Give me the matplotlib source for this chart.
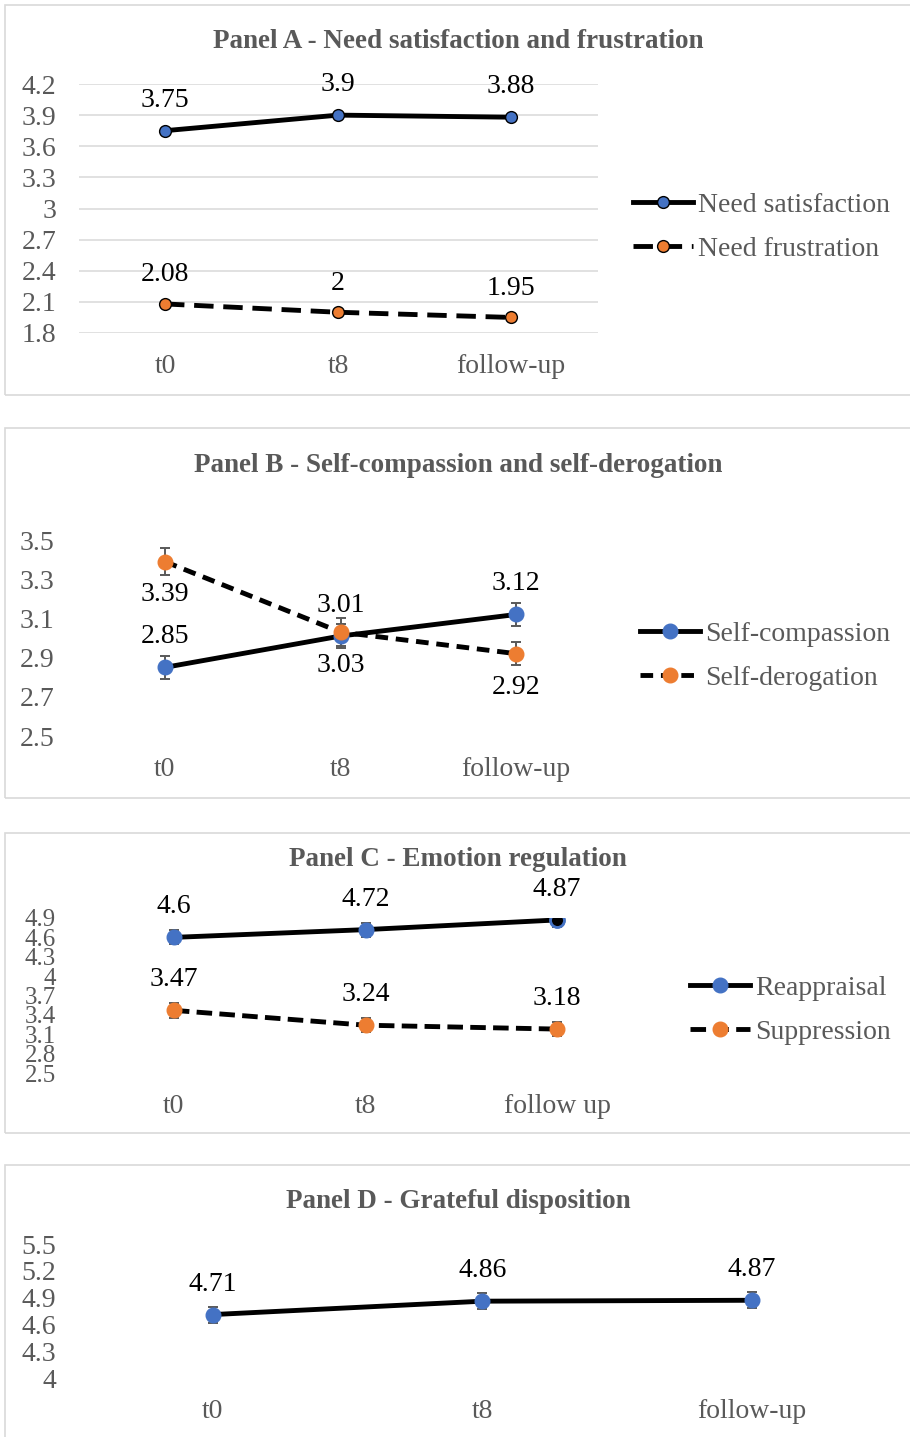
import matplotlib
matplotlib.use("Agg")
import matplotlib.pyplot as plt
from matplotlib.patches import Rectangle

plt.rcParams['font.family'] = ['Liberation Serif', 'DejaVu Serif']

W, H = 910, 1437
BLUE = '#4472C4'
ORANGE = '#ED7D31'
GRAY = '#595959'

times = ['t0', 't8', 'follow-up']
times_c = ['t0', 't8', 'follow up']

# Panel A
need_sat = [3.75, 3.9, 3.88]
need_fru = [2.08, 2.0, 1.95]
yticks_a = [1.8, 2.1, 2.4, 2.7, 3, 3.3, 3.6, 3.9, 4.2]

# Panel B
self_comp = [2.85, 3.01, 3.12]
self_comp_err = [0.06, 0.06, 0.06]
self_der = [3.39, 3.03, 2.92]
self_der_err = [0.07, 0.07, 0.06]
yticks_b = [2.5, 2.7, 2.9, 3.1, 3.3, 3.5]

# Panel C
reapp = [4.6, 4.72, 4.87]
reapp_err = [0.11, 0.11, 0.11]
suppr = [3.47, 3.24, 3.18]
suppr_err = [0.12, 0.11, 0.11]
yticks_c = [2.5, 2.8, 3.1, 3.4, 3.7, 4, 4.3, 4.6, 4.9]

# Panel D
grateful = [4.71, 4.86, 4.87]
grateful_err = [0.09, 0.09, 0.09]
yticks_d = [4, 4.3, 4.6, 4.9, 5.2, 5.5]

fig = plt.figure(figsize=(W / 100, H / 100), dpi=100)


def box(top, bottom):
    fig.patches.append(Rectangle((5 / W, 1 - bottom / H), 1.0, (bottom - top) / H,
                                 transform=fig.transFigure, fill=False,
                                 edgecolor='#d9d9d9', lw=1.2))


def make_axes(left, right, top, bottom, yticks, labels, grid=False, ysize=20):
    ax = fig.add_axes([left / W, 1 - bottom / H, (right - left) / W, (bottom - top) / H])
    ax.set_xlim(-0.5, 2.5)
    ax.set_ylim(yticks[0], yticks[-1])
    ax.set_yticks(yticks)
    ax.set_yticklabels([f'{t:g}' for t in yticks])
    ax.set_xticks(range(3))
    ax.set_xticklabels(labels)
    ax.tick_params(axis='both', length=0, labelsize=20, colors=GRAY)
    ax.tick_params(axis='y', pad=16, labelsize=ysize)
    ax.tick_params(axis='x', pad=15)
    for s in ax.spines.values():
        s.set_visible(False)
    if grid:
        ax.grid(axis='y', color='#d9d9d9', lw=1.1)
        ax.set_axisbelow(True)
    ax.patch.set_alpha(0)
    return ax


def labels_on(ax, vals, dy):
    for i, v in enumerate(vals):
        ax.annotate(f'{v:g}', xy=(i, v), xytext=(0, dy), textcoords='offset points',
                    ha='center', va='center', fontsize=20, color='black')


def title(y, text):
    fig.text(458 / W, 1 - y / H, text, ha='center', va='center', fontsize=19.5,
             fontweight='bold', color=GRAY)


def legend(ax, handles, names, x, y):
    ax.legend(handles, names, loc='center left', bbox_to_anchor=(x / W, 1 - y / H),
              bbox_transform=fig.transFigure, frameon=False, fontsize=20,
              handlelength=2.15, handletextpad=0.2, labelspacing=0.68,
              borderpad=0, borderaxespad=0, labelcolor=GRAY)


x = range(3)
eb = dict(ecolor=GRAY, elinewidth=1.4, capsize=3.5, capthick=1.4)

# ---- Panel A
box(5, 395)
title(42, 'Panel A - Need satisfaction and frustration')
ax = make_axes(78.5, 597.5, 84, 333, yticks_a, times, grid=True)
l1, = ax.plot(x, need_sat, color='black', lw=3.5, marker='o', ms=8.5,
              mfc=BLUE, mec='black', mew=1.0)
l2, = ax.plot(x, need_fru, color='black', lw=3.5, ls=(0, (4, 2)), marker='o', ms=8.5,
              mfc=ORANGE, mec='black', mew=1.0)
labels_on(ax, need_sat, 22)
labels_on(ax, need_fru, 21)
legend(ax, [l1, l2], ['Need satisfaction', 'Need frustration'], 633, 227)

# ---- Panel B
box(428, 798)
title(465, 'Panel B - Self-compassion and self-derogation')
ax = make_axes(77, 604, 540, 736, yticks_b, times)
c1 = ax.errorbar(x, self_comp, yerr=self_comp_err, color='black', lw=3.5, marker='o', ms=10.5,
                 mfc=BLUE, mec=BLUE, **eb)
c2 = ax.errorbar(x, self_der, yerr=self_der_err, color='black', lw=3.5, ls=(0, (2.6, 1.6)),
                 marker='o', ms=10.5, mfc=ORANGE, mec=ORANGE, **eb)
labels_on(ax, self_comp, 22)
labels_on(ax, self_der, -24)
legend(ax, [c1[0], c2[0]], ['Self-compassion', 'Self-derogation'], 640, 656)

# ---- Panel C
box(833, 1133)
title(860, 'Panel C - Emotion regulation')
ax = make_axes(78, 653, 918, 1073, yticks_c, times_c, ysize=18)
c1 = ax.errorbar(x, reapp, yerr=reapp_err, color='black', lw=3.5, marker='o', ms=10.5,
                 mfc=BLUE, mec=BLUE, **eb)
ax.plot([2], [reapp[2]], ls='none', marker='o', ms=10, mfc='black', mec=BLUE, mew=2,
        zorder=6)
c2 = ax.errorbar(x, suppr, yerr=suppr_err, color='black', lw=3.5, ls=(0, (3.2, 1.5)),
                 marker='o', ms=10.5, mfc=ORANGE, mec=ORANGE, **eb)
labels_on(ax, reapp, 22)
labels_on(ax, suppr, 22)
legend(ax, [c1[0], c2[0]], ['Reappraisal', 'Suppression'], 690, 1010)

# ---- Panel D
box(1165, 1460)
title(1202, 'Panel D - Grateful disposition')
ax = make_axes(78, 887, 1244, 1378, yticks_d, times)
ax.errorbar(x, grateful, yerr=grateful_err, color='black', lw=3.5, marker='o', ms=10.5,
            mfc=BLUE, mec=BLUE, **eb)
labels_on(ax, grateful, 22)

fig.savefig('out.png', dpi=100)
